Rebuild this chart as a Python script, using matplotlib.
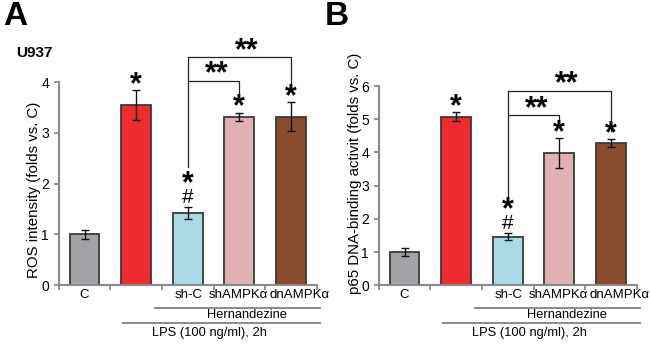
import numpy as np
import matplotlib.pyplot as plt
from matplotlib.transforms import offset_copy

plt.rcParams['font.family'] = ['Liberation Sans', 'DejaVu Sans']

# data
groups = ['C', '', 'sh-C', 'shAMPKα', 'dnAMPKα']
label_pos = [0, 1, 2.02, 2.99, 4.16]
bar_colors = ['#a2a3a7', '#ee2b2f', '#aad9e3', '#e0b0b4', '#8a4a2c']

ros_mean = [1.0, 3.55, 1.42, 3.32, 3.32]
ros_err = [0.08, 0.29, 0.12, 0.08, 0.28]
p65_mean = [1.0, 5.08, 1.46, 3.98, 4.28]
p65_err = [0.11, 0.14, 0.10, 0.46, 0.13]

W, H = 650, 345
fig = plt.figure(figsize=(6.5, 3.45), dpi=100)


def box(x0, y0, x1, y1):
    # pixel box -> figure fraction
    return [x0 / W, 1 - y1 / H, (x1 - x0) / W, (y1 - y0) / H]


def below(ax, px):
    # x in data, y shifted px pixels below the x axis
    return offset_copy(ax.get_xaxis_transform(), fig=fig, y=-px, units='dots')


def star(ax, x, y, s, dy, size=22, **kw):
    # text placed dy pixels above the data point
    ax.annotate(s, xy=(x, y), xytext=(0, dy * 0.72), textcoords='offset points',
                ha='center', va='center', fontsize=size, annotation_clip=False, **kw)


def panel(x0, mean, err, ytop, ymax, ylabel, lab_x, lab_y, brk):
    ax = fig.add_axes(box(x0, 46.5, x0 + 258, 285.3))
    x = np.arange(len(mean))
    ax.bar(x, mean, width=0.58, color=bar_colors, edgecolor='#3a3a3a', linewidth=1.3, zorder=2)
    ax.errorbar(x, mean, yerr=err, fmt='none', ecolor='#111111', elinewidth=1.0,
                capsize=3, capthick=1.0, zorder=3)
    ax.set_xlim(-0.5, 4.5)
    ax.set_ylim(0, ymax)
    ax.set_yticks(np.arange(0, ytop + 1))
    ax.set_xticks(np.arange(-0.5, 5, 1))
    ax.set_xticklabels([])
    for s in ['top', 'right']:
        ax.spines[s].set_visible(False)
    for s in ['left', 'bottom']:
        ax.spines[s].set_color('#8a8a8a')
        ax.spines[s].set_linewidth(1.5)
    ax.spines['left'].set_bounds(0, ytop)
    ax.tick_params(axis='both', color='#8a8a8a', width=1.3, length=3.5, labelsize=10, pad=3.5)
    ax.patch.set_alpha(0)

    fig.text(lab_x / W, 1 - lab_y / H, ylabel, rotation=90, ha='center', va='center', fontsize=10.8)

    # category labels under the axis
    for g, p in zip(groups, label_pos):
        ax.text(p, 0, g, ha='center', va='center', fontsize=9.5, transform=below(ax, 10))
    # treatment lines
    ax.plot([1.37, 4.56], [0, 0], color='#8a8a8a', lw=1.4, clip_on=False, transform=below(ax, 23))
    ax.plot([0.74, 4.56], [0, 0], color='#8a8a8a', lw=1.4, clip_on=False, transform=below(ax, 38))
    ax.text(3.14, 0, 'Hernandezine', ha='center', va='center', fontsize=9.3, transform=below(ax, 30))
    ax.text(2.43, 0, 'LPS (100 ng/ml), 2h', ha='center', va='center', fontsize=9.3,
            transform=below(ax, 48))

    # significance marks above bars
    for i in range(1, len(mean)):
        top = mean[i] + err[i]
        if i == 2:
            star(ax, i, top, '#', 10, size=15)
            star(ax, i, top, '*', 23, fontweight='bold')
        else:
            star(ax, i, top, '*', 5, fontweight='bold')

    # brackets
    y0, y_lo, y_hi, end_lo, end_hi = brk
    kw = dict(color='#222222', lw=0.9, clip_on=False)
    ax.plot([2, 2], [y0, y_hi], **kw)
    ax.plot([2, 3, 3], [y_lo, y_lo, end_lo], **kw)
    ax.plot([2, 4, 4], [y_hi, y_hi, end_hi], **kw)
    star(ax, 2.56, y_lo, '**', 6, fontweight='bold')
    star(ax, 3.14, y_hi, '**', 6, fontweight='bold')
    return ax


axA = panel(58.7, ros_mean, ros_err, 4, 4.7, 'ROS intensity (folds vs. C)', 34, 190,
            (2.33, 4.03, 4.49, 3.78, 3.86))
axB = panel(378.7, p65_mean, p65_err, 6, 7.19, 'p65 DNA-binding activit (folds vs. C)', 355, 173,
            (2.52, 5.13, 5.86, 4.83, 4.66))

fig.text(3 / W, 1 - 16.5 / H, 'A', fontsize=24, fontweight='bold', ha='left', va='center')
fig.text(325 / W, 1 - 16.5 / H, 'B', fontsize=24, fontweight='bold', ha='left', va='center')
fig.text(16 / W, 1 - 52.7 / H, 'U937', fontsize=11, fontweight='bold', ha='left', va='center')

fig.savefig('out.png', dpi=100)
